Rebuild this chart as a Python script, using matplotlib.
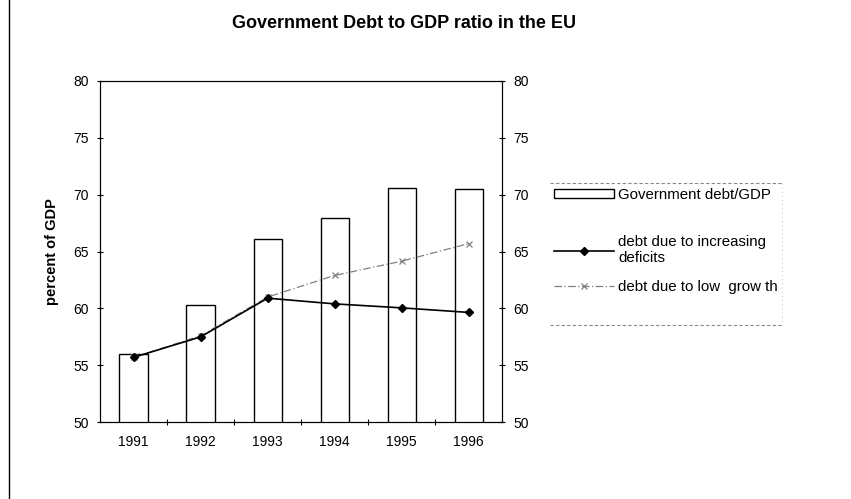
import matplotlib
matplotlib.use("Agg")
import matplotlib.pyplot as plt
from matplotlib.lines import Line2D
from matplotlib.patches import Patch
import numpy as np

plt.rcParams['font.family'] = ['Liberation Sans', 'DejaVu Sans']

years = ['1991', '1992', '1993', '1994', '1995', '1996']
debt_gdp = [56.0, 60.3, 66.1, 67.9, 70.6, 70.5]
debt_deficits = [55.7, 57.5, 60.9, 60.4, 60.05, 59.65]
debt_low_growth = [55.7, 57.6, 61.0, 62.9, 64.15, 65.7]
yticks = [50, 55, 60, 65, 70, 75, 80]
legend_labels = ['Government debt/GDP', 'debt due to increasing\ndeficits', 'debt due to low  grow th']

W, H = 851, 499
fig = plt.figure(figsize=(W / 100, H / 100), dpi=100)
ax = fig.add_axes([100 / W, 1 - 422.3 / H, (502.3 - 100) / W, (422.3 - 80.7) / H])
x = np.arange(len(years))

grow_style = dict(color='#808080', lw=0.9, ls=(0, (6, 2, 1, 2)), marker='x', ms=5, mew=0.9)
def_style = dict(color='black', lw=1.2, marker='D', ms=4.5)

ax.bar(x, debt_gdp, width=0.42, color='white', edgecolor='black', linewidth=1.0, zorder=2)
ax.plot(x, debt_deficits, zorder=4, **def_style)
ax.plot(x, debt_low_growth, zorder=3, **grow_style)

ax.set_xlim(-0.5, len(years) - 0.5)
ax.set_ylim(50, 80)
ax.set_yticks(yticks)
ax.set_xticks(x)
ax.set_xticklabels(years, fontsize=10)
ax.set_xticks(np.arange(0.5, len(years) - 0.5, 1), minor=True)
ax.tick_params(axis='x', which='major', length=0, pad=9)
ax.tick_params(axis='x', which='minor', length=5, direction='inout', width=0.8)
ax.tick_params(axis='y', labelsize=10, length=5, direction='inout', width=0.8, pad=5.5)
for s in ax.spines.values():
    s.set_linewidth(0.8)
ax.spines['top'].set_color('#444444')
ax.set_ylabel('percent of GDP', fontsize=10.5, fontweight='bold')
ax.yaxis.label.set(ha='center', va='center', rotation_mode='default')
ax.yaxis.set_label_coords((52 - 100) / 402.3, 0.5)

ax2 = ax.twinx()
ax2.set_ylim(50, 80)
ax2.set_yticks(yticks)
ax2.tick_params(axis='y', labelsize=10, length=5, direction='inout', width=0.8, pad=5.5)
for s in ax2.spines.values():
    s.set_linewidth(0.8)

fig.text(404.5 / W, 1 - 23.5 / H, 'Government Debt to GDP ratio in the EU', ha='center', va='center',
         fontsize=13, fontweight='bold')

handles = [
    Patch(facecolor='white', edgecolor='black', linewidth=1.0),
    Line2D([], [], **def_style),
    Line2D([], [], **grow_style),
]
# one legend per entry, placed like the original (uneven spacing)
tops = [188, 235, 280]
for h, lab, top in zip(handles, legend_labels, tops):
    fig.legend([h], [lab], loc='upper left', bbox_to_anchor=(554 / W, 1 - top / H),
               fontsize=10.8, frameon=False, handlelength=4.0, handleheight=0.6,
               handletextpad=0.3, borderpad=0, borderaxespad=0, labelspacing=0)

frame_kw = dict(transform=fig.transFigure, color='#8a8a8a', lw=0.8, ls=(0, (3, 2)))
fig.add_artist(Line2D([550 / W, 782 / W], [1 - 183 / H, 1 - 183 / H], **frame_kw))
fig.add_artist(Line2D([550 / W, 782 / W], [1 - 325 / H, 1 - 325 / H], **frame_kw))
fig.add_artist(Line2D([782 / W, 782 / W], [1 - 183 / H, 1 - 325 / H],
                      transform=fig.transFigure, color='#b0b0b0', lw=0.6, ls=(0, (1, 4))))

fig.add_artist(Line2D([8.5 / W, 8.5 / W], [0, 1], transform=fig.transFigure, color='black', lw=1.0))

fig.savefig('out.png', dpi=100)
